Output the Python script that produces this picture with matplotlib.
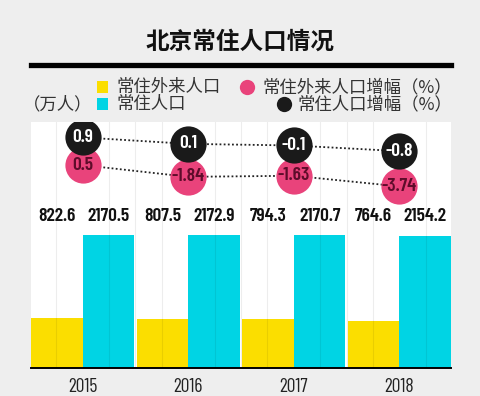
import matplotlib
matplotlib.use("Agg")
import matplotlib.pyplot as plt
from matplotlib.patches import Rectangle
from matplotlib.lines import Line2D
from matplotlib.ticker import MultipleLocator
import numpy as np

years = ["2015", "2016", "2017", "2018"]
migrant_pop = [822.6, 807.5, 794.3, 764.6]          # 常住外来人口 (万人)
resident_pop = [2170.5, 2172.9, 2170.7, 2154.2]     # 常住人口 (万人)
migrant_growth = [0.5, -1.84, -1.63, -3.74]         # 常住外来人口增幅 (%)
resident_growth = [0.9, 0.1, -0.1, -0.8]            # 常住人口增幅 (%)

title = "北京常住人口情况"
unit_label = "（万人）"
legend_labels = ["常住外来人口", "常住人口", "常住外来人口增幅（%）", "常住人口增幅（%）"]

YELLOW = "#fbde00"
CYAN = "#00d4e4"
PINK = "#e9437b"
BLACK = "#1a1a1a"
BG = "#eeeeee"

CJK = ["Noto Sans CJK SC", "DejaVu Sans"]
NUM = ["Barlow Condensed", "DejaVu Sans"]

fig = plt.figure(figsize=(4.8, 3.96), dpi=100, facecolor=BG)
ax = fig.add_axes([31/480, 28/396, 420/480, 246/396])
ax.set_facecolor("white")

x = np.arange(len(years))
w = 0.49
ax.bar(x - w/2, migrant_pop, width=w, color=YELLOW, zorder=2)
ax.bar(x + w/2, resident_pop, width=w, color=CYAN, zorder=2)
ax.set_xlim(-w, len(years) - 1 + w)
ax.set_ylim(0, 4014)

ax.xaxis.set_minor_locator(MultipleLocator(0.25))
ax.grid(which="minor", axis="x", color="black", alpha=0.07, linewidth=0.8, zorder=3)
ax.set_axisbelow(False)
ax.set_xticks(x)
ax.set_xticklabels(years, fontfamily=NUM, fontweight=400, fontsize=14, color="#222222")
ax.tick_params(axis="x", which="both", length=0, pad=7)
ax.set_yticks([])
for s in ["top", "left", "right"]:
    ax.spines[s].set_visible(False)
ax.spines["bottom"].set_linewidth(1.4)
ax.spines["bottom"].set_color("black")
ax.spines["bottom"].set_zorder(5)

# value labels
tr = ax.get_xaxis_transform()
for i in range(len(years)):
    ax.text(x[i] - w/2, 0.614, f"{migrant_pop[i]}", transform=tr, ha="center", va="center",
            fontfamily=NUM, fontweight=600, fontsize=14, color="#111111")
    ax.text(x[i] + w/2, 0.614, f"{resident_pop[i]:.1f}", transform=tr, ha="center", va="center",
            fontfamily=NUM, fontweight=600, fontsize=14, color="#111111")

# growth circles (pink first, black on top)
axp = ax.twinx()
axp.set_ylim(-39.92, 9.08)
axb = ax.twinx()
axb.set_ylim(-27.67, 2.81)
for a in (axp, axb):
    a.set_xlim(ax.get_xlim())
    a.axis("off")

axp.plot(x, migrant_growth, color="#222222", linestyle=(0, (1, 1.3)), linewidth=1.3, zorder=1)
axp.scatter(x, migrant_growth, s=680, color=PINK, zorder=2, linewidths=0)
for i, v in enumerate(migrant_growth):
    axp.text(x[i], v, f"{v:g}", ha="center", va="center", fontfamily=NUM, fontweight=600,
             fontsize=14, color="#5e0c2a", zorder=3)

axb.plot(x, resident_growth, color="#222222", linestyle=(0, (1, 1.3)), linewidth=1.3, zorder=1)
axb.scatter(x, resident_growth, s=680, color=BLACK, zorder=2, linewidths=0)
for i, v in enumerate(resident_growth):
    axb.text(x[i], v, f"{v:g}", ha="center", va="center", fontfamily=NUM, fontweight=600,
             fontsize=14, color="white", zorder=3)

# title and rule
fig.text(0.5, 1 - 42/396, title, ha="center", va="center", fontfamily=CJK, fontweight="bold",
         fontsize=17, color="#111111")
fig.add_artist(Line2D([31/480, 451/480], [1 - 65/396, 1 - 65/396], color="black", linewidth=3.8))

# legend
def fy(py):
    return 1 - py/396

fig.add_artist(Rectangle((97/480, fy(93)), 11/480, 12/396, transform=fig.transFigure,
                         color=YELLOW, linewidth=0))
fig.add_artist(Rectangle((97/480, fy(110)), 11/480, 12/396, transform=fig.transFigure,
                         color=CYAN, linewidth=0))
fig.add_artist(Line2D([247/480], [fy(87)], marker="o", markersize=11, color=PINK,
                      markeredgewidth=0, linestyle="none"))
fig.add_artist(Line2D([284/480], [fy(104)], marker="o", markersize=11, color=BLACK,
                      markeredgewidth=0, linestyle="none"))
lk = dict(va="center", fontfamily=CJK, fontweight="light", fontsize=12.5, color="#333333")
fig.text(117/480, fy(87), legend_labels[0], ha="left", **lk)
fig.text(117/480, fy(104), legend_labels[1], ha="left", **lk)
fig.text(452/480, fy(87), legend_labels[2], ha="right", **lk)
fig.text(452/480, fy(104), legend_labels[3], ha="right", **lk)
fig.text(92/480, fy(104), unit_label, ha="right", **lk)

fig.savefig("out.png", dpi=100, facecolor=BG)
